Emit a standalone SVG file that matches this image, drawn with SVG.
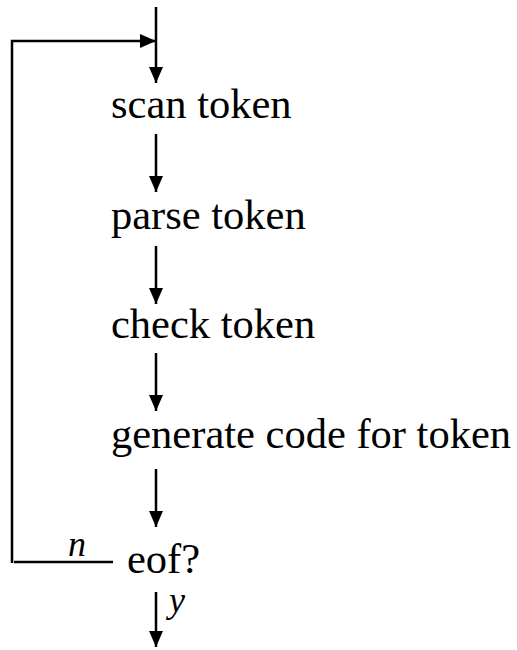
<svg xmlns="http://www.w3.org/2000/svg" width="517" height="650" viewBox="0 0 517 650">
<style>
.t{font-family:"Liberation Serif","Times New Roman",serif;font-size:42.5px;fill:#000}
.l{font-family:"Liberation Serif","Times New Roman",serif;font-size:36px;font-style:italic;fill:#000}
.c{stroke:#000;stroke-width:2.5;fill:none}
</style>
<defs>
<marker id="ah" viewBox="0 0 16 14" refX="16" refY="7" markerWidth="16" markerHeight="14" markerUnits="userSpaceOnUse" orient="auto">
<path d="M0,0 L16,7 L0,14 z" fill="#000"/>
</marker>
</defs>
<rect width="517" height="650" fill="#fff"/>
<g id="connectors">
<path class="c" d="M156,7 V83" marker-end="url(#ah)"/>
<path class="c" d="M12,563 V41 H156" marker-end="url(#ah)"/>
<path class="c" d="M156,134 V192" marker-end="url(#ah)"/>
<path class="c" d="M156,246 V304" marker-end="url(#ah)"/>
<path class="c" d="M156,353 V411" marker-end="url(#ah)"/>
<path class="c" d="M156,469 V527" marker-end="url(#ah)"/>
<path class="c" d="M156,592 V647" marker-end="url(#ah)"/>
<path class="c" d="M14,562 H113"/>
</g>
<g id="scan"><text class="t" x="111" y="118">scan token</text></g>
<g id="parse"><text class="t" x="111" y="229">parse token</text></g>
<g id="check"><text class="t" x="111" y="338">check token</text></g>
<g id="generate"><text class="t" x="111" y="448">generate code for token</text></g>
<g id="eof"><text class="t" x="127" y="573">eof?</text></g>
<g id="labels">
<text class="l" x="68" y="556">n</text>
<text class="l" x="169" y="612">y</text>
</g>
</svg>
